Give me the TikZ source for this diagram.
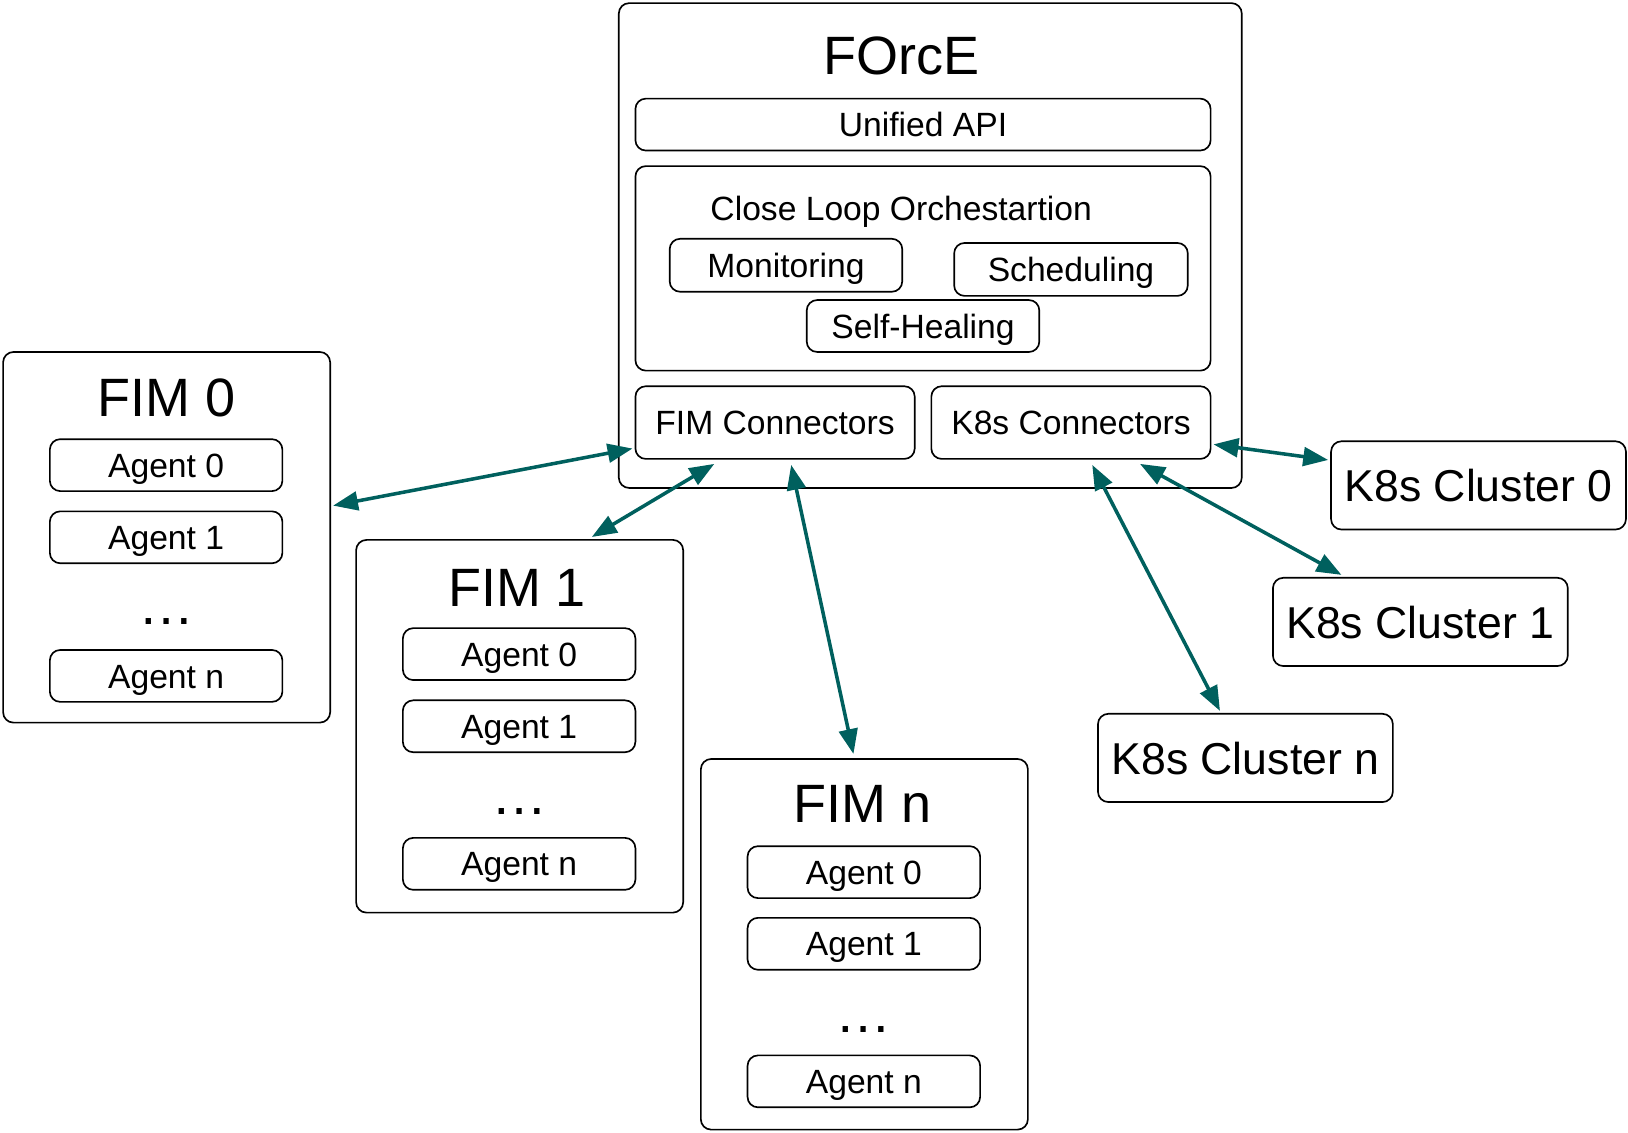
\documentclass[tikz,border=0pt]{standalone}
\usepackage{fontspec}
\setmainfont{Liberation Sans}
\usetikzlibrary{arrows.meta,calc}
\definecolor{arrowteal}{RGB}{0,96,94}
\begin{document}
\begin{tikzpicture}[x=0.5pt,y=-0.5pt,
  box/.style={draw=black,line width=0.8pt,rounded corners=5pt,inner sep=0pt,fill=white},
  smalltxt/.style={font=\fontsize{16.2}{19}\selectfont,text height=11.7pt,text depth=0pt},
  bigtxt/.style={font=\fontsize{26}{30}\selectfont},
  agentbox/.style={box,smalltxt,minimum width=112pt,minimum height=25pt},
  fimbox/.style={box,minimum width=157.5pt,minimum height=178.5pt},
  clusterbox/.style={box,font=\fontsize{21.5}{25}\selectfont,text height=15.5pt,text depth=0pt,minimum width=142pt,minimum height=42.5pt},
  title/.style={inner sep=0pt,bigtxt,text height=18.7pt,text depth=0pt},
  dots/.style={inner sep=0pt,anchor=base,font=\fontsize{27}{30}\selectfont},
  link/.style={draw=arrowteal,line width=1.7pt,{Triangle[length=12pt,width=9pt]}-{Triangle[length=12pt,width=9pt]}}
]
\useasboundingbox (0,0) rectangle (1568,1091);

% FOrcE
\node[box,minimum width=300pt,minimum height=233.5pt] (force) at (896,236.5) {};
\node[title] (forcet) at (868,53) {FOrcE};
\node[box,smalltxt,minimum width=277pt,minimum height=25pt] (api) at (889,120) {Unified API};
\node[box,minimum width=277pt,minimum height=98.5pt] (loop) at (889,258.5) {};
\node[inner sep=0pt,smalltxt] (loopt) at (868,201) {Close Loop Orchestartion};
\node[box,smalltxt,minimum width=112pt,minimum height=25.5pt] (mon) at (757,255.5) {Monitoring};
\node[box,smalltxt,minimum width=112.5pt,minimum height=25.5pt] (sched) at (1031.5,259.5) {Scheduling};
\node[box,smalltxt,minimum width=112pt,minimum height=25pt] (heal) at (889,314) {Self-Healing};
\node[box,smalltxt,minimum width=134.5pt,minimum height=35pt] (fimconn) at (746.5,407) {FIM Connectors};
\node[box,smalltxt,minimum width=134.5pt,minimum height=35pt] (k8sconn) at (1031.5,407) {K8s Connectors};

% FIM 0
\node[fimbox] (fim0) at (160.5,517.5) {};
\node[title] (fim0t) at (160,382) {FIM 0};
\node[agentbox] (f0a0) at (160,448) {Agent 0};
\node[agentbox] (f0a1) at (160,517.5) {Agent 1};
\node[dots] (f0d) at (160,601) {…};
\node[agentbox] (f0an) at (160,651) {Agent n};

% FIM 1
\node[fimbox,minimum height=179.5pt] (fim1) at (500.5,699.5) {};
\node[title] (fim1t) at (498,565) {FIM 1};
\node[agentbox] (f1a0) at (500,630) {Agent 0};
\node[agentbox] (f1a1) at (500,699.5) {Agent 1};
\node[dots] (f1d) at (500,784) {…};
\node[agentbox] (f1an) at (500,832) {Agent n};

% FIM n
\node[fimbox] (fimn) at (832.5,909.5) {};
\node[title] (fimnt) at (831,773) {FIM n};
\node[agentbox] (fna0) at (832,840) {Agent 0};
\node[agentbox] (fna1) at (832,909) {Agent 1};
\node[dots] (fnd) at (832,994) {…};
\node[agentbox] (fnan) at (832,1041.5) {Agent n};

% clusters
\node[clusterbox] (cl0) at (1424,467.5) {K8s Cluster 0};
\node[clusterbox] (cl1) at (1368,599) {K8s Cluster 1};
\node[clusterbox] (cln) at (1199.5,730) {K8s Cluster n};

% connectors
\draw[link] ($(fim0.east)+(2,-30.5)$) -- ($(fimconn.west)+(-2,25)$);
\draw[link] ($(fim1.north)+(69.5,-2)$) -- ($(fimconn.south)+(-58.5,4)$);
\draw[link] ($(fimn.north)+(-10.5,-4)$) -- ($(fimconn.south)+(15.5,5)$);
\draw[link] ($(k8sconn.east)+(2,21)$) -- ($(cl0.west)+(-2,-24.5)$);
\draw[link] ($(k8sconn.south)+(66.5,4)$) -- ($(cl1.north)+(-76,-2)$);
\draw[link] ($(k8sconn.south)+(20.5,5)$) -- ($(cln.north)+(-24.5,-2)$);
\end{tikzpicture}
\end{document}
